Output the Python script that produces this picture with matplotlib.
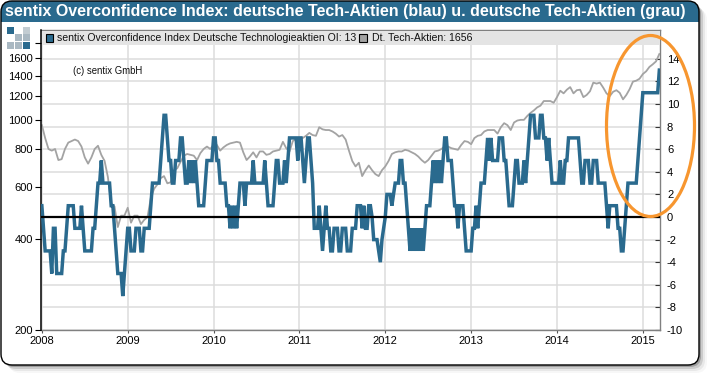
import numpy as np
import matplotlib
matplotlib.use("Agg")
import matplotlib.pyplot as plt
from matplotlib.patches import FancyBboxPatch, Rectangle, Ellipse

plt.rcParams['font.family'] = ['Liberation Sans', 'DejaVu Sans']
plt.rcParams['axes.unicode_minus'] = False

TITLE = "sentix Overconfidence Index: deutsche Tech-Aktien (blau) u. deutsche Tech-Aktien (grau)"
LEGEND_BLUE = "sentix Overconfidence Index Deutsche Technologieaktien OI: 13"
LEGEND_GREY = "Dt. Tech-Aktien: 1656"

BLUE = "#2a6a8e"
GREY = "#a3a3a3"
GRID = "#dcdcdc"
ORANGE = "#f7962f"

# weekly index values, one list per year
oi_2008 = [1, -1, -3, -3, -3, -3, -5, -1, -1, -5, -5, -5, -5, -3, -3, -1, 1, 1, 1, 1, -1, -1, -1, -1, 1, -1,
           -3, -3, -3, -3, -3, -1, -1, 1, 3, 3, 5, 3, 3, 3, 3, 3, 1, 1, -1, -3, -5, -5, -5, -7, -5, -3]
oi_2009 = [-1, -1, -3, -3, -3, -1, -1, -1, -3, -3, -1, -1, -1, -1, 1, 3, 3, 3, 3, 3, 5, 7, 9, 9, 7, 5,
           5, 3, 3, 5, 5, 5, 7, 7, 5, 3, 3, 5, 3, 5, 3, 5, 3, 1, 1, 1, 1, 3, 5, 5, 5, 5]
oi_2010 = [7, 7, 5, 5, 3, 3, 3, 3, 1, 1, -1, 1, -1, 1, -1, 1, 3, 3, 3, 1, 3, 3, 3, 3, 5, 3,
           3, 3, 3, 3, 3, 5, 3, 1, 1, 1, 1, 3, 5, 5, 3, 3, 3, 5, 3, 5, 7, 7, 7, 7, 7, 5]
oi_2011 = [7, 7, 5, 3, 5, 7, 7, 5, 3, -1, -1, -1, 1, -1, -3, -1, 1, -1, -1, -3, -3, -1, -1, -1, -3, -3,
           -1, -1, -1, -3, -3, -3, -1, -1, -1, 1, 1, 1, -1, 1, -1, -1, 1, 1, 0, -2, -2, -2, -3, -4, -2, -1]
oi_2012 = [0, 2, 2, 2, 1, 2, 3, 3, 3, 5, 5, 3, 3, 1, -1, -3, -1, -3, -1, -3, -1, -3, -1, -3, -1, 1,
           1, 1, 3, 5, 3, 5, 3, 5, 3, 5, 7, 7, 5, 5, 5, 3, 1, 1, -1, 1, 1, 1, -1, -3, -3, -3]
oi_2013 = [-3, -1, -1, 1, -1, 1, 3, 3, 3, 5, 7, 5, 7, 5, 5, 5, 5, 7, 7, 7, 5, 5, 3, 1, 1, 1,
           3, 5, 5, 3, 3, 3, 5, 3, 5, 7, 9, 9, 9, 7, 7, 7, 9, 9, 7, 7, 5, 7, 5, 3, 3, 3]
oi_2014 = [3, 3, 5, 3, 3, 5, 5, 7, 7, 7, 7, 7, 7, 7, 5, 3, 3, 5, 5, 5, 3, 3, 5, 5, 5, 3,
           3, 3, 3, 3, 1, -1, 1, 1, 1, 1, 1, -1, -1, -3, -3, -1, 1, 3, 3, 3, 3, 3, 3, 5, 7, 9]
oi_2015 = [11, 11, 11, 11, 11, 11, 11, 11, 11, 11, 13]

oi_years = [2008, 2009, 2010, 2011, 2012, 2013, 2014, 2015]
oi_values = [oi_2008, oi_2009, oi_2010, oi_2011, oi_2012, oi_2013, oi_2014, oi_2015]

# two-weekly index level from the start of 2008
tech = [960, 870, 800, 790, 800, 735, 740, 800, 840, 850, 860, 850, 815, 750, 715, 750, 800, 820, 765, 730, 645, 525, 515, 440, 480, 480,
        510, 455, 480, 480, 450, 465, 475, 550, 590, 610, 640, 650, 615, 620, 680, 690, 725, 760, 770, 765, 760, 735, 775, 800, 815, 800,
        825, 825, 790, 810, 825, 835, 840, 845, 840, 780, 735, 755, 780, 750, 785, 785, 765, 770, 785, 790, 795, 845, 805, 785, 850, 865,
        870, 870, 885, 905, 890, 885, 945, 930, 925, 925, 915, 900, 880, 890, 860, 790, 730, 700, 720, 650, 680, 705, 680, 660, 650, 680,
        700, 730, 770, 780, 785, 785, 795, 790, 780, 770, 755, 735, 720, 735, 760, 785, 790, 800, 815, 815, 805, 800, 795, 825, 850, 845,
        830, 870, 885, 890, 915, 925, 925, 925, 900, 945, 975, 960, 925, 980, 995, 1000, 1000, 1030, 1055, 1075, 1100, 1115, 1155, 1155, 1155, 1140,
        1190, 1250, 1225, 1260, 1285, 1225, 1255, 1260, 1190, 1210, 1245, 1330, 1320, 1330, 1280, 1225, 1200, 1240, 1255, 1230, 1170, 1210, 1265, 1340, 1350, 1370,
        1420, 1450, 1500, 1530, 1565, 1656]

left_ticks = [200, 400, 600, 800, 1000, 1200, 1400, 1600, 1800]
left_labels = ["200", "400", "600", "800", "1000", "1200", "1400", "1600", ""]
right_ticks = list(range(-10, 17, 2))
right_labels = [str(t) for t in right_ticks[:-1]] + [""]
year_ticks = oi_years

W, H = 710, 376
fig = plt.figure(figsize=(W / 100, H / 100), dpi=100, facecolor="white")

# frame and header, drawn in pixel coordinates
deco = fig.add_axes([0, 0, 1, 1], zorder=0)
deco.set_xlim(0, W)
deco.set_ylim(H, 0)
deco.axis('off')
for off, a in [(8, 0.03), (6, 0.06), (4, 0.12), (2, 0.22)]:
    deco.add_patch(FancyBboxPatch((1 + off, 1 + off), 698, 364, boxstyle="round,pad=0,rounding_size=11",
                                  fc="black", ec="none", alpha=a))
frame = FancyBboxPatch((1, 1), 698, 364, boxstyle="round,pad=0,rounding_size=11", fc="white", ec="none")
deco.add_patch(frame)
head = Rectangle((0, 0), 702, 21.5, fc=BLUE, ec="none")
deco.add_patch(head)
head.set_clip_path(frame)
deco.add_patch(FancyBboxPatch((1, 1), 698, 364, boxstyle="round,pad=0,rounding_size=11", fc="none", ec="black", lw=1.0))
deco.text(5, 11.5, TITLE, color="white", fontsize=11.5, fontweight="bold", va="center", ha="left")

logo = [(7, 27, BLUE), (23, 27, "#c2ccd2"), (15, 34, "#a9b8c2"), (23, 34, "#a9b8c2"),
        (7, 42, "#a9b8c2"), (15, 42, "#a9b8c2"), (23, 42, BLUE)]
for lx, ly, lc in logo:
    deco.add_patch(Rectangle((lx, ly), 6.5, 6.5, fc=lc, ec="none"))

rect = [41 / W, 1 - 330 / H, (660 - 41) / W, 300 / H]
x_lim = (2007.99, 2015.2)

# base axes: grid and right scale
ax = fig.add_axes(rect, zorder=1, facecolor="white")
ax.set_xlim(x_lim)
ax.set_ylim(-10, 16.55)
ax.yaxis.tick_right()
ax.set_yticks(right_ticks)
ax.set_yticklabels(right_labels)
ax.set_xticks(year_ticks)
ax.set_xticklabels([str(y) for y in year_ticks])
ax.grid(True, color=GRID, lw=1.1)
ax.set_axisbelow(True)
ax.tick_params(axis='y', direction='in', length=3.5, width=0.8, pad=5, labelsize=8, color="#333333")
ax.tick_params(axis='x', direction='out', length=2, width=0.8, pad=2.5, labelsize=8, color="#555555")
for s in ['top', 'right', 'bottom']:
    ax.spines[s].set_color("#808080")
    ax.spines[s].set_linewidth(1.0)
ax.spines['left'].set_visible(False)

# grey series on the log scale
ax_tech = fig.add_axes(rect, zorder=2, facecolor="none", sharex=ax)
ax_tech.set_yscale('log')
ax_tech.set_ylim(200, 1990)
ax_tech.plot(2008 + np.arange(len(tech)) / 26, tech, color=GREY, lw=1.3, solid_joinstyle="round")
ax_tech.set_yticks(left_ticks)
ax_tech.set_yticklabels(left_labels)
ax_tech.minorticks_off()
ax_tech.tick_params(axis='y', direction='out', length=4.5, width=0.8, pad=1.5, labelsize=8)
ax_tech.tick_params(axis='x', bottom=False, labelbottom=False)
for s in ['top', 'right', 'bottom']:
    ax_tech.spines[s].set_visible(False)
ax_tech.spines['left'].set_linewidth(1.1)
ax_tech.spines['left'].set_color("black")

# blue series on the linear scale
ax_oi = fig.add_axes(rect, zorder=3, facecolor="none", sharex=ax, sharey=ax)
ax_oi.axis('off')
oi_x = np.concatenate([y + np.arange(len(v)) / 52 for y, v in zip(oi_years, oi_values)])
oi_y = np.concatenate(oi_values)
ax_oi.plot(oi_x, oi_y, color=BLUE, lw=2.5, solid_joinstyle="miter", zorder=2)
ax_oi.axhline(0, color="black", lw=1.6, zorder=3)

# legend band, note and ellipse on top
top = fig.add_axes([0, 0, 1, 1], zorder=4, facecolor="none")
top.set_xlim(0, W)
top.set_ylim(H, 0)
top.axis('off')
top.add_patch(Rectangle((42, 30.5), 618, 14.5, fc="#e4e4e4", ec="none"))
top.add_patch(Rectangle((45.5, 34), 7.5, 7.5, fc=BLUE, ec="black", lw=0.8))
top.text(57, 38, LEGEND_BLUE, fontsize=7.55, va="center", ha="left", color="#111111")
top.add_patch(Rectangle((359, 34), 7.5, 7.5, fc=GREY, ec="black", lw=0.8))
top.text(372, 38, LEGEND_GREY, fontsize=7.55, va="center", ha="left", color="#111111")
top.text(73, 71, "(c) sentix GmbH", fontsize=6.9, va="center", ha="left", color="#111111")
top.add_patch(Ellipse((650.5, 126), 88, 181, fc="none", ec=ORANGE, lw=2.3))

fig.savefig("out.png", dpi=100, facecolor="white")
